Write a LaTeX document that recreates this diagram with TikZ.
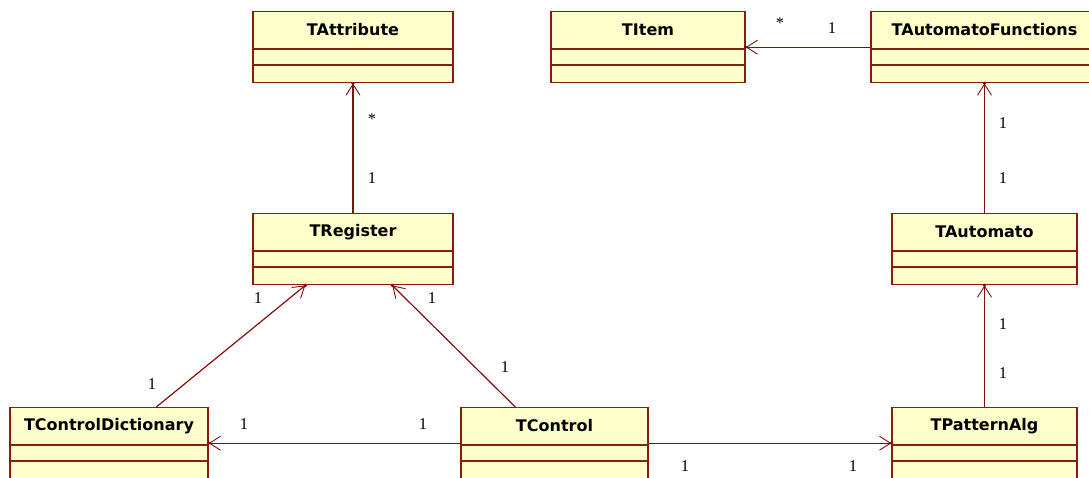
\documentclass[tikz,border=0pt]{standalone}
\usepackage{fontspec}
\setmainfont{Liberation Serif}
\newfontfamily\clsfont{DejaVu Sans}
\usetikzlibrary{arrows.meta,calc}

\definecolor{clsfill}{RGB}{255,255,204}
\definecolor{clsline}{RGB}{134,30,14}
\definecolor{assocline}{RGB}{128,16,16}

\tikzset{
  cls/.style={draw=clsline, fill=clsfill, line width=1.4pt, rectangle,
    minimum height=71pt, inner sep=0pt, anchor=north},
  clsname/.style={font=\clsfont\bfseries\fontsize{16}{19}\selectfont, text=black, inner sep=0pt},
  compart/.style={draw=clsline, line width=1.4pt},
  assoc/.style={draw=assocline, line width=1.2pt,
    -{Straight Barb[length=11pt,width=14pt,line width=0.9pt]}},
  tipdot/.style={fill=assocline},
  mult/.style={font=\fontsize{16.5}{18}\selectfont, text=black, inner sep=0pt},
}

% UML class box: name, centre x, top y, width, class name
\newcommand\umlclass[5]{%
  \node[cls, minimum width=#4] (#1) at (#2,#3) {};
  \node[clsname] (#1-name) at ($(#1.north)+(0,19)$) {#5};
  \draw[compart] ($(#1.north west)+(0,38)$) -- ($(#1.north east)+(0,38)$);
  \draw[compart] ($(#1.north west)+(0,54)$) -- ($(#1.north east)+(0,54)$);
}

\begin{document}
\begin{tikzpicture}[x=1pt,y=-1pt]
  \useasboundingbox (0,0) rectangle (1089,477);
  \fill[white] (0,0) rectangle (1089,477);
  \clip (0,0) rectangle (1089,477);

  % classes
  \umlclass{tattr}{353}{11}{200}{TAttribute}
  \umlclass{titem}{648}{11}{194}{TItem}
  \umlclass{tautof}{984.5}{11}{227}{TAutomatoFunctions}
  \umlclass{treg}{353}{213}{200}{TRegister}
  \umlclass{tauto}{984.5}{213}{185}{TAutomato}
  \umlclass{tdict}{109}{407}{198}{TControlDictionary}
  \umlclass{tctrl}{554.5}{407}{187}{TControl}
  \umlclass{tpat}{984.5}{407}{185}{TPatternAlg}

  % attachment points on box edges
  \coordinate (regA) at ($(treg.south west)+(53,0)$);
  \coordinate (regB) at ($(treg.south west)+(140,0)$);
  \coordinate (dictTop) at ($(tdict.north west)+(147,0)$);
  \coordinate (ctrlTop) at ($(tctrl.north west)+(55,0)$);
  \coordinate (autofBot) at (tauto.north |- tautof.south);

  % associations
  \draw[assoc] (treg.north) -- (tattr.south);
  \draw[assoc] (tautof.west) -- (titem.east);
  \draw[assoc] (tauto.north) -- (autofBot);
  \draw[assoc] (tpat.north) -- (tauto.south);
  \draw[assoc] (dictTop) -- (regA);
  \draw[assoc] (ctrlTop) -- (regB);
  \draw[assoc] (tctrl.west) -- (tdict.east);
  \draw[assoc] (tctrl.east) -- (tpat.west);

  % dots at the arrow tips
  \foreach \p in {tattr.south, titem.east, autofBot, tauto.south, regA, regB, tdict.east, tpat.west}
    \fill[tipdot] (\p) circle (1.8);

  % multiplicities
  \node[mult] (m1) at (372,119) {*};
  \node[mult] (m2) at (372,178) {1};
  \node[mult] (m3) at (780,23) {*};
  \node[mult] (m4) at (832,28) {1};
  \node[mult] (m5) at (1003,123) {1};
  \node[mult] (m6) at (1003,178) {1};
  \node[mult] (m7) at (1003,324) {1};
  \node[mult] (m8) at (1003,373) {1};
  \node[mult] (m9) at (258,298) {1};
  \node[mult] (m10) at (432,298) {1};
  \node[mult] (m11) at (152,384) {1};
  \node[mult] (m12) at (505,367) {1};
  \node[mult] (m13) at (244,424) {1};
  \node[mult] (m14) at (423,424) {1};
  \node[mult] (m15) at (685,466) {1};
  \node[mult] (m16) at (853,466) {1};
\end{tikzpicture}
\end{document}
